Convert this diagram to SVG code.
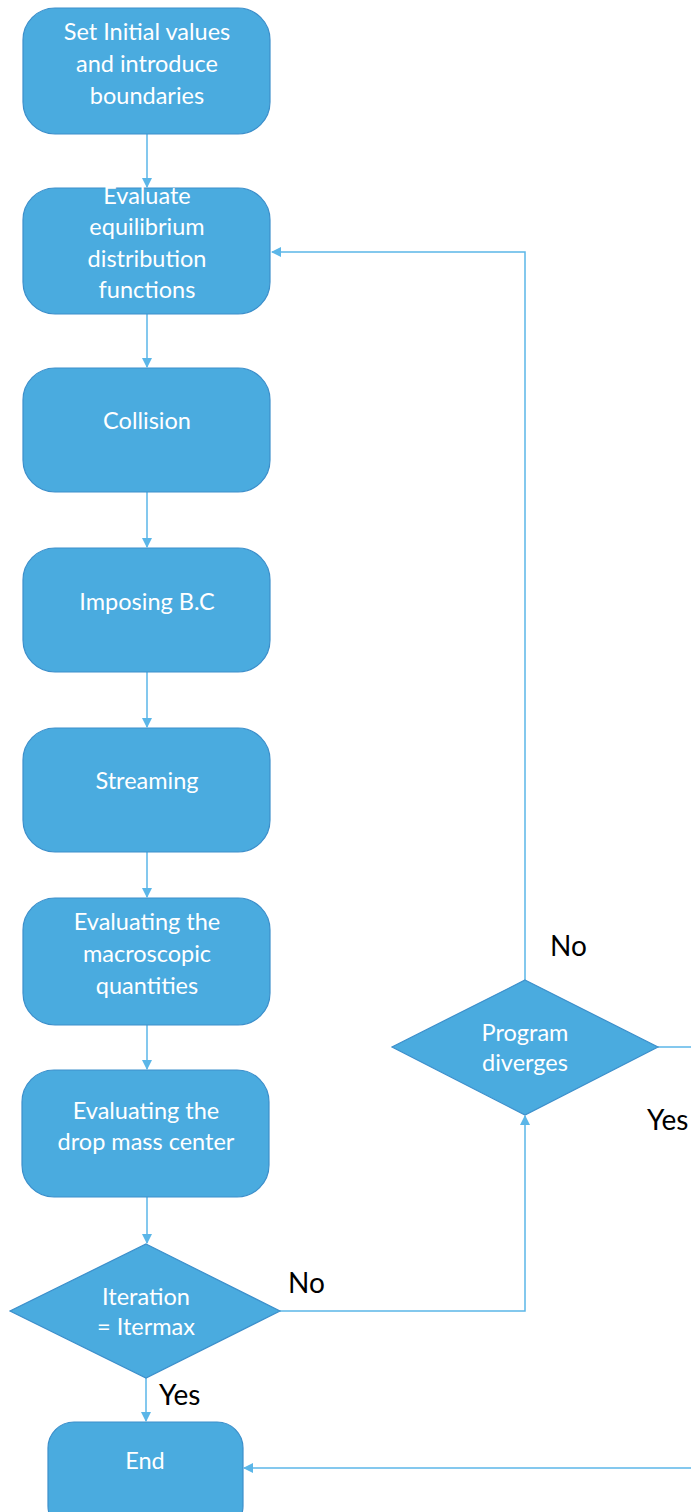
<svg xmlns="http://www.w3.org/2000/svg" width="691" height="1512" viewBox="0 0 691 1512">
<style>
.box{fill:#4AABDF;stroke:#3C8FCB;stroke-width:1.2}
.t{fill:#FFFFFF;font-family:Lato,"Liberation Sans",sans-serif;font-size:23.5px;text-anchor:middle}
.lbl{fill:#000000;font-family:Lato,"Liberation Sans",sans-serif;font-size:28px}
.c{fill:none;stroke:#5BB6E8;stroke-width:1.5}
</style>
<defs>
<marker id="ah" markerWidth="10" markerHeight="10" refX="9" refY="5" orient="auto" markerUnits="userSpaceOnUse">
<path d="M0,0 L10,5 L0,10 z" fill="#5BB6E8"/>
</marker>
</defs>
<rect width="691" height="1512" fill="#FFFFFF"/>
<g id="connectors">
<path class="c" d="M147,134 V187" marker-end="url(#ah)"/>
<path class="c" d="M147,314 V367" marker-end="url(#ah)"/>
<path class="c" d="M147,492 V547" marker-end="url(#ah)"/>
<path class="c" d="M147,672 V727" marker-end="url(#ah)"/>
<path class="c" d="M147,852 V897" marker-end="url(#ah)"/>
<path class="c" d="M147,1025 V1069" marker-end="url(#ah)"/>
<path class="c" d="M147,1197 V1243" marker-end="url(#ah)"/>
<path class="c" d="M146,1378 V1421" marker-end="url(#ah)"/>
<path class="c" d="M280,1311 H525 V1116" marker-end="url(#ah)"/>
<path class="c" d="M525,980 V252 H272" marker-end="url(#ah)"/>
<path class="c" d="M658,1047 H691"/>
<path class="c" d="M691,1468 H244" marker-end="url(#ah)"/>
</g>
<g id="n1"><rect class="box" x="23" y="8" width="247" height="126" rx="32"/>
<text class="t" x="147" y="40">Set Initial values</text><text class="t" x="147" y="72">and introduce</text><text class="t" x="147" y="104">boundaries</text></g>
<g id="n2"><rect class="box" x="23" y="188" width="247" height="126" rx="32"/>
<text class="t" x="147" y="204">Evaluate</text><text class="t" x="147" y="235">equilibrium</text><text class="t" x="147" y="267">distribution</text><text class="t" x="147" y="298">functions</text></g>
<g id="n3"><rect class="box" x="23" y="368" width="247" height="124" rx="32"/>
<text class="t" x="147" y="429">Collision</text></g>
<g id="n4"><rect class="box" x="23" y="548" width="247" height="124" rx="32"/>
<text class="t" x="147" y="610">Imposing B.C</text></g>
<g id="n5"><rect class="box" x="23" y="728" width="247" height="124" rx="32"/>
<text class="t" x="147" y="789">Streaming</text></g>
<g id="n6"><rect class="box" x="23" y="898" width="247" height="127" rx="32"/>
<text class="t" x="147" y="930">Evaluating the</text><text class="t" x="147" y="962">macroscopic</text><text class="t" x="147" y="994">quantities</text></g>
<g id="n7"><rect class="box" x="22" y="1070" width="247" height="127" rx="32"/>
<text class="t" x="146" y="1119">Evaluating the</text><text class="t" x="146" y="1150">drop  mass center</text></g>
<g id="d1"><polygon class="box" points="146,1244 280,1311 146,1378 10,1311"/>
<text class="t" x="146" y="1305">Iteration</text><text class="t" x="146" y="1335">= Itermax</text></g>
<g id="d2"><polygon class="box" points="525,980 658,1047 525,1115 392,1047"/>
<text class="t" x="525" y="1041">Program</text><text class="t" x="525" y="1071">diverges</text></g>
<g id="end"><rect class="box" x="48" y="1422" width="195" height="110" rx="26"/>
<text class="t" x="145" y="1469">End</text></g>
<g id="labels">
<text class="lbl" x="550" y="956">No</text>
<text class="lbl" x="647" y="1130">Yes</text>
<text class="lbl" x="288" y="1293">No</text>
<text class="lbl" x="159" y="1405">Yes</text>
</g>
</svg>
